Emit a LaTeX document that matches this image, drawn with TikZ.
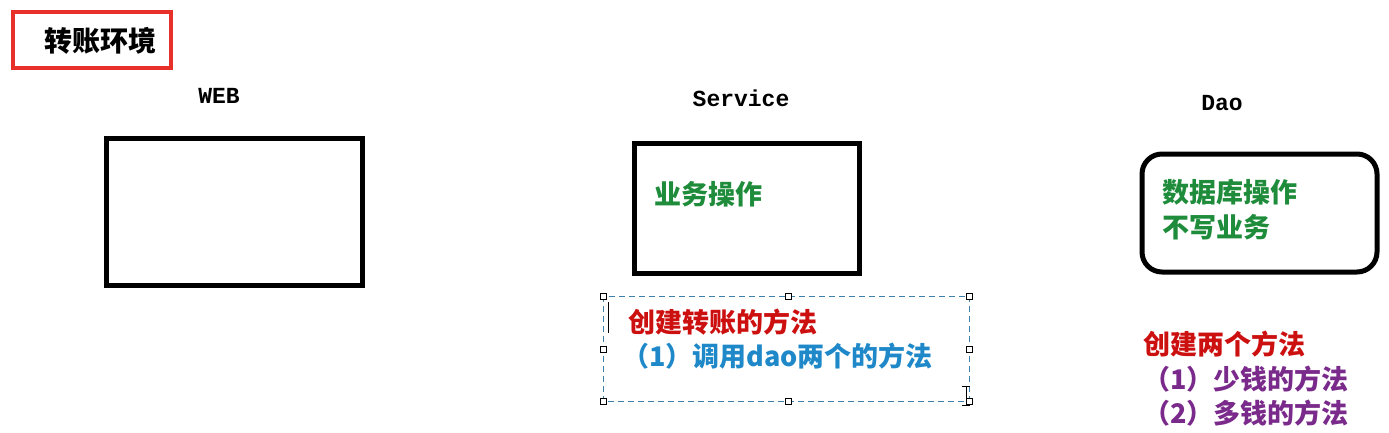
\documentclass[tikz,border=0pt]{standalone}
\usepackage{fontspec}
\newfontfamily\cjk{Noto Sans CJK SC}
\newfontfamily\monof{Liberation Mono}
\definecolor{boxred}{HTML}{E8302A}
\definecolor{txtgreen}{HTML}{1E8C3A}
\definecolor{txtred}{HTML}{CC1010}
\definecolor{txtblue}{HTML}{1E88C8}
\definecolor{txtpurple}{HTML}{7A2A8A}
\definecolor{dashblue}{HTML}{3C7FA8}
\tikzset{
  heavybox/.style={draw=black, line width=5pt},
  layerlabel/.style={font=\monof\bfseries\fontsize{23}{26}\selectfont, inner sep=0pt},
  cjktext/.style={font=\cjk\bfseries\fontsize{27}{30}\selectfont, inner sep=0pt, anchor=west},
  handle/.style={draw=black, fill=white, line width=0.8pt, minimum size=6pt, inner sep=0pt, rectangle},
}
\begin{document}
\begin{tikzpicture}[x=1pt,y=-1pt]
\useasboundingbox (0,0) rectangle (1389,432);
% title
\draw[boxred, line width=4.5pt] (13,12) rectangle (171,68);
\node[font=\cjk\bfseries\fontsize{28}{30}\selectfont, inner sep=0pt] (title) at (100,41) {转账环境};
% layer labels
\node[layerlabel] (web) at (219,96) {WEB};
\node[layerlabel] (svc) at (741,98) {Service};
\node[layerlabel] (dao) at (1222,103) {Dao};
% boxes
\draw[heavybox] (106,138) rectangle (362,285);
\draw[heavybox] (634,143) rectangle (859,273);
\draw[heavybox, rounded corners=20pt] (1142,154) rectangle (1377,272);
% box texts
\node[cjktext, text=txtgreen] (svct) at (654,194) {业务操作};
\node[cjktext, text=txtgreen] (daot1) at (1162,192) {数据库操作};
\node[cjktext, text=txtgreen] (daot2) at (1162,227) {不写业务};
% dashed selected text box
\draw[dashblue, dash pattern=on 6pt off 4pt, line width=1pt] (603,296) rectangle (969,401);
\foreach \p in {(603,296),(788,296),(969,296),(603,349),(969,349),(603,401),(788,401),(969,401)}
  \node[handle] at \p {};
\draw[black, line width=1pt] (608,302) -- (608,333);
\draw[black, line width=1pt] (966,386) -- (966,405) (962,386) -- (970,386) (962,405) -- (970,405);
\node[cjktext, text=txtred] (svcm) at (628,322) {创建转账的方法};
\node[cjktext, text=txtblue] (svcm1) at (622,356) {（1）调用dao两个的方法};
% dao methods
\node[cjktext, text=txtred] (daom) at (1143,344) {创建两个方法};
\node[cjktext, text=txtpurple] (daom1) at (1143,379) {（1）少钱的方法};
\node[cjktext, text=txtpurple] (daom2) at (1143,413) {（2）多钱的方法};
\end{tikzpicture}
\end{document}
